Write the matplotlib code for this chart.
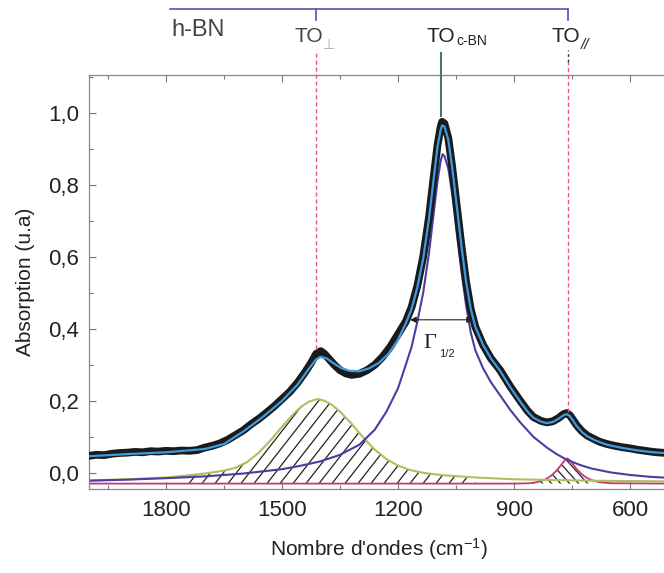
import numpy as np
import matplotlib
matplotlib.use("Agg")
import matplotlib.pyplot as plt
from matplotlib.ticker import MultipleLocator
from matplotlib.collections import LineCollection

plt.rcParams['font.family'] = ['Liberation Sans', 'DejaVu Sans']
plt.rcParams['mathtext.fontset'] = 'custom'
plt.rcParams['mathtext.rm'] = 'Liberation Sans'
plt.rcParams['mathtext.it'] = 'Liberation Sans:italic'

# measured spectrum (thick black)
wn_data = [2000, 1980, 1960, 1940, 1920, 1900, 1880, 1860, 1840, 1820,
           1800, 1780, 1760, 1740, 1720, 1700, 1680, 1660, 1640, 1620,
           1600, 1580, 1560, 1540, 1520, 1500, 1480, 1460, 1440, 1425,
           1412, 1400, 1390, 1380, 1365, 1350, 1335, 1320, 1300, 1280,
           1260, 1240, 1220, 1200, 1180, 1165, 1150, 1135, 1120, 1108,
           1098, 1090, 1086, 1080, 1070, 1060, 1048, 1036, 1024, 1012,
           1000, 980, 960, 936, 910, 884, 865, 850, 830, 815,
           800, 785, 772, 764, 756, 748, 738, 725, 710, 690,
           678, 660, 640, 620, 600, 580, 560, 540, 520, 500]
absorb_data = [0.047, 0.050, 0.049, 0.053, 0.055, 0.056, 0.058, 0.057, 0.060, 0.059,
               0.061, 0.060, 0.062, 0.061, 0.063, 0.070, 0.075, 0.082, 0.092, 0.105,
               0.118, 0.135, 0.150, 0.167, 0.185, 0.205, 0.225, 0.250, 0.280, 0.305,
               0.330, 0.338, 0.330, 0.318, 0.300, 0.285, 0.276, 0.272, 0.275, 0.285,
               0.300, 0.322, 0.350, 0.385, 0.420, 0.460, 0.520, 0.600, 0.710, 0.820,
               0.910, 0.960, 0.975, 0.970, 0.930, 0.850, 0.740, 0.630, 0.530, 0.455,
               0.405, 0.355, 0.318, 0.285, 0.240, 0.200, 0.172, 0.155, 0.144, 0.140,
               0.143, 0.152, 0.163, 0.166, 0.160, 0.148, 0.132, 0.116, 0.103, 0.092,
               0.086, 0.080, 0.075, 0.071, 0.068, 0.064, 0.061, 0.058, 0.056, 0.055]

# total fit (light blue)
wn_fit = [2000, 1900, 1800, 1700, 1650, 1600, 1550, 1500, 1460, 1430,
          1412, 1400, 1385, 1365, 1345, 1325, 1300, 1275, 1250, 1225,
          1200, 1180, 1165, 1150, 1135, 1120, 1108, 1098, 1090, 1086,
          1080, 1070, 1060, 1048, 1036, 1024, 1012, 1000, 980, 960,
          936, 910, 884, 865, 850, 830, 815, 800, 785, 772,
          764, 756, 748, 738, 725, 710, 690, 660, 620, 580, 540, 500]
absorb_fit = [0.046, 0.052, 0.057, 0.066, 0.080, 0.115, 0.155, 0.200, 0.245, 0.290,
              0.315, 0.322, 0.318, 0.303, 0.290, 0.283, 0.282, 0.290, 0.305, 0.330,
              0.370, 0.415, 0.455, 0.515, 0.595, 0.705, 0.815, 0.905, 0.952, 0.965,
              0.962, 0.925, 0.848, 0.740, 0.630, 0.530, 0.455, 0.405, 0.355, 0.318,
              0.283, 0.238, 0.198, 0.170, 0.153, 0.142, 0.138, 0.141, 0.150, 0.160,
              0.163, 0.158, 0.146, 0.130, 0.114, 0.101, 0.090, 0.078, 0.069, 0.062, 0.057, 0.054]

# c-BN component (purple)
wn_cbn = [2000, 1900, 1800, 1700, 1600, 1500, 1450, 1400, 1350, 1300,
          1260, 1230, 1200, 1180, 1165, 1150, 1135, 1120, 1108, 1098,
          1090, 1085, 1080, 1070, 1060, 1048, 1036, 1024, 1012, 1000,
          980, 960, 936, 910, 884, 850, 815, 790, 763, 730,
          700, 650, 600, 550, 500]
cbn_comp = [-0.022, -0.019, -0.015, -0.010, -0.002, 0.010, 0.020, 0.032, 0.050, 0.078,
            0.120, 0.170, 0.235, 0.300, 0.350, 0.420, 0.500, 0.610, 0.720, 0.810,
            0.865, 0.885, 0.880, 0.845, 0.775, 0.665, 0.560, 0.465, 0.390, 0.340,
            0.290, 0.252, 0.215, 0.175, 0.140, 0.100, 0.070, 0.052, 0.036, 0.022,
            0.012, 0.001, -0.006, -0.011, -0.014]

# h-BN TO perp component (yellow-green, hatched)
wn_to_perp = [2000, 1900, 1800, 1750, 1700, 1650, 1620, 1590, 1560, 1530,
              1500, 1470, 1450, 1430, 1408, 1390, 1370, 1350, 1320, 1290,
              1260, 1230, 1200, 1170, 1130, 1080, 1000, 900, 800, 700, 600, 500]
to_perp_comp = [-0.021, -0.018, -0.013, -0.008, -0.002, 0.006, 0.014, 0.030, 0.056, 0.090,
                0.128, 0.164, 0.184, 0.198, 0.205, 0.200, 0.188, 0.170, 0.136, 0.098,
                0.064, 0.038, 0.020, 0.008, -0.001, -0.007, -0.013, -0.018, -0.020, -0.022,
                -0.023, -0.024]

# h-BN TO parallel component (magenta, hatched)
wn_to_par = [2000, 900, 860, 840, 820, 805, 790, 778, 768, 762,
             756, 748, 738, 725, 712, 700, 680, 650, 500]
to_par_comp = [-0.030, -0.030, -0.029, -0.026, -0.019, -0.009, 0.006, 0.022, 0.036, 0.040,
               0.035, 0.024, 0.010, -0.004, -0.014, -0.020, -0.026, -0.029, -0.030]

baseline = -0.03
pos_perp, pos_cbn, pos_par = 1412, 1088, 760
fwhm_ends = [1169, 1006]
fwhm_level = 0.425

xticks = [1800, 1500, 1200, 900, 600]
yticks = [0.0, 0.2, 0.4, 0.6, 0.8, 1.0]
ytick_labels = ['0,0', '0,2', '0,4', '0,6', '0,8', '1,0']

fig = plt.figure(figsize=(6.64, 5.73), dpi=100)
ax = fig.add_axes([0.1336, 0.1466, 0.8735, 0.7225])
ax.set_xlim(2000, 500)
ax.set_ylim(-0.045, 1.105)


def hatch_area(x, y, mask, spacing, angle, back=False):
    # slanted lines clipped to the area under a fitted component
    area = ax.fill_between(x, baseline, y, where=mask, facecolor='none',
                           edgecolor='none', zorder=1)
    w_px, h_px = 580.0, 414.0
    run = h_px / (w_px * np.tan(np.radians(angle)))
    segs = []
    for x0 in np.arange(-1.0, 2.0, spacing / w_px):
        if back:
            segs.append([(x0, 1.0), (x0 + run, 0.0)])
        else:
            segs.append([(x0, 0.0), (x0 + run, 1.0)])
    lc = LineCollection(segs, transform=ax.transAxes, colors='#222222',
                        linewidths=0.9, zorder=1)
    lc.set_clip_path(area.get_paths()[0], ax.transData)
    ax.add_collection(lc, autolim=False)


wp = np.array(wn_to_perp)
hatch_area(wn_to_perp, to_perp_comp, (wp >= 1000) & (wp <= 1750), 13, 52)
wq = np.array(wn_to_par)
hatch_area(wn_to_par, to_par_comp, (wq >= 690) & (wq <= 860), 9, 48, back=True)

ax.plot(wn_to_par, to_par_comp, color='#c8357a', lw=1.3, zorder=2)
ax.plot(wn_to_perp, to_perp_comp, color='#a9c25a', lw=1.5, zorder=2)
ax.plot(wn_cbn, cbn_comp, color='#4b3c9e', lw=1.5, zorder=2)
ax.plot(wn_data, absorb_data, color='#1a1a1a', lw=5.6, solid_capstyle='round', zorder=3)
ax.plot(wn_fit, absorb_fit, color='#3d9be0', lw=1.6, zorder=4)

# peak markers
ytop = 1.174
ax.plot([pos_perp, pos_perp], [0.345, ytop], color='#e8587a', lw=1, ls=(0, (3, 2)), clip_on=False, zorder=5)
ax.plot([pos_par, pos_par], [0.17, 1.14], color='#e8587a', lw=1, ls=(0, (3, 2)), clip_on=False, zorder=5)
ax.plot([pos_par, pos_par], [1.14, ytop], color='#333333', lw=1, ls=(0, (2, 2)), clip_on=False, zorder=5)
ax.plot([pos_cbn, pos_cbn], [0.99, 1.166], color='#3f7f5f', lw=1.5, clip_on=False, zorder=5)

# h-BN bracket
ax.plot([1790, pos_par], [1.288, 1.288], color='#5555aa', lw=1.2, clip_on=False)
ax.plot([pos_perp, pos_perp], [1.288, 1.258], color='#5555aa', lw=1.2, clip_on=False)
ax.plot([pos_par, pos_par], [1.288, 1.258], color='#5555aa', lw=1.2, clip_on=False)
ax.text(1785, 1.212, 'h-BN', fontsize=17, color='#444444', va='baseline', ha='left')

ax.text(1394, 1.196, 'TO', fontsize=15, color='#444444', va='baseline', ha='right')
ax.text(1394, 1.177, '\u22a5', fontsize=10, color='#aaaaaa', va='baseline', ha='left',
        family=['DejaVu Sans'])
ax.text(1053, 1.196, 'TO', fontsize=15, color='#222222', va='baseline', ha='right')
ax.text(1049, 1.187, 'c-BN', fontsize=10, color='#222222', va='baseline', ha='left')
ax.text(729, 1.196, 'TO', fontsize=15, color='#222222', va='baseline', ha='right')
ax.text(727, 1.177, '//', fontsize=11, color='#222222', va='baseline', ha='left', style='italic')

# FWHM arrow
ax.annotate('', xy=(fwhm_ends[0], fwhm_level), xytext=(fwhm_ends[1], fwhm_level),
            arrowprops=dict(arrowstyle='<|-|>', color='#222222', lw=0.8, mutation_scale=9,
                            shrinkA=0, shrinkB=0))
ax.text(1135, 0.346, '\u0393', fontsize=16, family=['Liberation Serif'], color='#222222',
        va='baseline', ha='left')
ax.text(1094, 0.322, '1/2', fontsize=8, color='#222222', va='baseline', ha='left')

ax.set_xticks(xticks)
ax.xaxis.set_minor_locator(MultipleLocator(150))
ax.set_yticks(yticks, ytick_labels)
ax.yaxis.set_minor_locator(MultipleLocator(0.1))
ax.tick_params(which='both', direction='in', top=True, right=False, colors='#777777',
               labelcolor='#222222', labelsize=16)
ax.tick_params(which='major', length=5, width=0.8)
ax.tick_params(which='minor', length=3, width=0.8)
ax.tick_params(axis='x', pad=8)
ax.tick_params(axis='y', pad=7)
for s in ax.spines.values():
    s.set_color('#888888')
    s.set_linewidth(0.9)

ax.set_xlabel("Nombre d'ondes (cm$^{-1}$)", fontsize=15, color='#222222', labelpad=11)
ax.set_ylabel('Absorption (u.a)', fontsize=15, color='#222222', labelpad=9)

fig.savefig('out.png', dpi=100)
